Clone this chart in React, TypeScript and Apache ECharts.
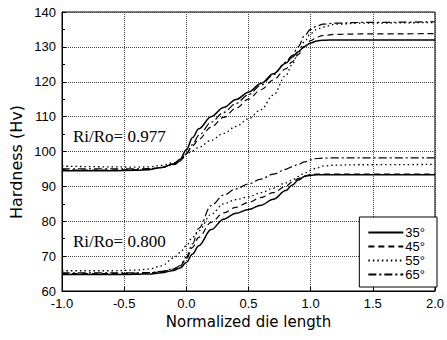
import React, { useEffect, useRef } from "react";
import * as echarts from "echarts";

const xs = [-1, -0.6, -0.4, -0.3, -0.2, -0.1, -0.05, 0, 0.05, 0.1, 0.2, 0.3, 0.4, 0.5, 0.6, 0.7, 0.8, 0.85, 0.9, 0.95, 1.0, 1.05, 1.1, 1.2, 1.4, 2.0];

// Ri/Ro = 0.977
const up35 = [94.5, 94.5, 94.6, 94.8, 95.4, 96.5, 97.8, 100.5, 104, 106.5, 110, 112.6, 114.9, 117, 119.5, 122.3, 125.3, 127, 128.6, 130.1, 131.1, 131.7, 131.9, 132, 132, 132];
const up45 = [94.7, 94.7, 94.8, 95.0, 95.4, 96.3, 97.3, 99.5, 101.6, 103.5, 107, 109.8, 112.4, 115, 117.7, 120.5, 123.7, 125.7, 127.8, 130, 131.8, 132.8, 133.3, 133.6, 133.7, 133.8];
const up55 = [95.8, 95.6, 95.5, 95.6, 96, 96.8, 97.5, 99.2, 100.2, 101.2, 103.2, 105.2, 107.2, 109.4, 112, 116.2, 121.8, 124.8, 128.3, 131.5, 133.8, 135, 135.7, 136.5, 136.8, 137];
const up65 = [95.0, 95.0, 95.0, 95.1, 95.4, 96.2, 97.2, 99.3, 102, 104.6, 108.4, 111.2, 113.8, 116.3, 119, 122, 125.6, 127.5, 130, 133.2, 135, 136, 136.5, 136.8, 137, 137.2];

// Ri/Ro = 0.800
const lo35 = [64.7, 64.7, 64.8, 64.9, 65.2, 65.9, 66.6, 68.2, 70.6, 73, 77.6, 80.6, 82.3, 83.4, 84.6, 86.3, 88.8, 90.3, 91.8, 92.8, 93.2, 93.3, 93.3, 93.3, 93.3, 93.3];
const lo45 = [65, 65, 65.1, 65.2, 65.5, 66.3, 67.2, 69.2, 72.5, 75.4, 79.7, 82.4, 84, 85.4, 86.8, 88.2, 90, 91.2, 92.2, 93, 93.4, 93.5, 93.5, 93.5, 93.5, 93.5];
const lo55 = [65.8, 65.8, 66, 66.3, 67.2, 69.5, 71, 73, 75.4, 77.3, 82, 85, 86.2, 87, 88.2, 89.5, 91, 91.8, 92.8, 93.8, 94.6, 95.3, 95.8, 96.1, 96.2, 96.3];
const lo65 = [65.2, 65.2, 65.2, 65.3, 65.6, 66.4, 67.3, 69.7, 73.5, 78, 84.5, 87.5, 89.3, 90.7, 92.1, 93.5, 94.9, 95.6, 96.3, 97, 97.6, 98, 98.1, 98.2, 98.2, 98.2];

const angleNames = ["35°", "45°", "55°", "65°"];
const lineTypes: any[] = ["solid", [6, 4], [1.5, 3], [8, 3, 2, 3]];
const lineWidths = [1.5, 1.2, 1.3, 1.2];
const upperSets = [up35, up45, up55, up65];
const lowerSets = [lo35, lo45, lo55, lo65];

const xTicks = { min: -1, max: 2, interval: 0.5 };
const yTicks = { min: 60, max: 140, interval: 10 };

export default function App() {
  const ref = useRef<HTMLDivElement>(null);
  useEffect(() => {
    if (!ref.current) return;
    const chart = echarts.init(ref.current, undefined, { renderer: "svg" });
    const mk = (name: string, ys: number[], i: number) => ({
      name,
      type: "line",
      data: xs.map((x, k) => [x, ys[k]]),
      showSymbol: false,
      symbol: "none",
      smooth: 0.35,
      smoothMonotone: "x",
      lineStyle: { color: "#000", width: lineWidths[i], type: lineTypes[i] },
      itemStyle: { color: "#000" },
      z: 3,
    });
    const series: any[] = [];
    angleNames.forEach((n, i) => series.push(mk(n, lowerSets[i], i)));
    angleNames.forEach((n, i) => series.push(mk(n, upperSets[i], i)));
    const font = "'Liberation Sans', Arial, sans-serif";
    chart.setOption({
      animation: false,
      backgroundColor: "#fff",
      grid: { left: 62, right: 10, top: 12, bottom: 49, show: true, borderColor: "#000", borderWidth: 1 },
      xAxis: {
        type: "value",
        min: xTicks.min,
        max: xTicks.max,
        interval: xTicks.interval,
        axisLine: { show: true, onZero: false, lineStyle: { color: "#000", width: 1 } },
        axisTick: { show: true, inside: true, length: 4, lineStyle: { color: "#000" } },
        axisLabel: { color: "#000", fontSize: 13, fontFamily: font, margin: 6, formatter: (v: number) => v.toFixed(1) },
        splitLine: { show: true, lineStyle: { color: "#444", type: "dotted", width: 1 } },
        name: "Normalized die length",
        nameLocation: "middle",
        nameGap: 22,
        nameTextStyle: { color: "#000", fontSize: 15, fontFamily: "'DejaVu Sans', sans-serif" },
      },
      yAxis: {
        type: "value",
        min: yTicks.min,
        max: yTicks.max,
        interval: yTicks.interval,
        axisLine: { show: true, onZero: false, lineStyle: { color: "#000", width: 1 } },
        axisTick: { show: true, inside: true, length: 4, lineStyle: { color: "#000" } },
        minorTick: { show: true, splitNumber: 2, length: 3, lineStyle: { color: "#000" } },
        axisLabel: { color: "#000", fontSize: 13, fontFamily: font, margin: 6 },
        splitLine: { show: true, lineStyle: { color: "#444", type: "dotted", width: 1 } },
      },
      legend: {
        data: angleNames,
        orient: "vertical",
        right: 10,
        top: 217,
        padding: [9, 12, 6, 8],
        itemGap: 1,
        itemWidth: 35,
        itemHeight: 14,
        backgroundColor: "#fff",
        borderColor: "#000",
        borderWidth: 1,
        borderRadius: 0,
        selectedMode: false,
        itemStyle: { opacity: 0, borderWidth: 0 },
        textStyle: { color: "#000", fontSize: 13, fontFamily: font, padding: [0, 0, 0, -3] },
        z: 10,
      },
      graphic: [
        {
          type: "text",
          x: 16,
          y: 162,
          rotation: Math.PI / 2,
          style: {
            text: "Hardness (Hv)",
            fill: "#000",
            font: "16px 'DejaVu Sans', sans-serif",
            align: "center",
            verticalAlign: "middle",
          },
        },
        {
          type: "text",
          x: 73,
          y: 136,
          style: { text: "Ri/Ro= 0.977", fill: "#000", font: "17px 'Liberation Serif', serif", verticalAlign: "middle" },
          z: 5,
        },
        {
          type: "text",
          x: 73,
          y: 241,
          style: { text: "Ri/Ro= 0.800", fill: "#000", font: "17px 'Liberation Serif', serif", verticalAlign: "middle" },
          z: 5,
        },
      ],
      series,
    });
    return () => chart.dispose();
  }, []);
  return <div ref={ref} style={{ width: 447, height: 340, position: "absolute", left: 0, top: 0 }} />;
}
